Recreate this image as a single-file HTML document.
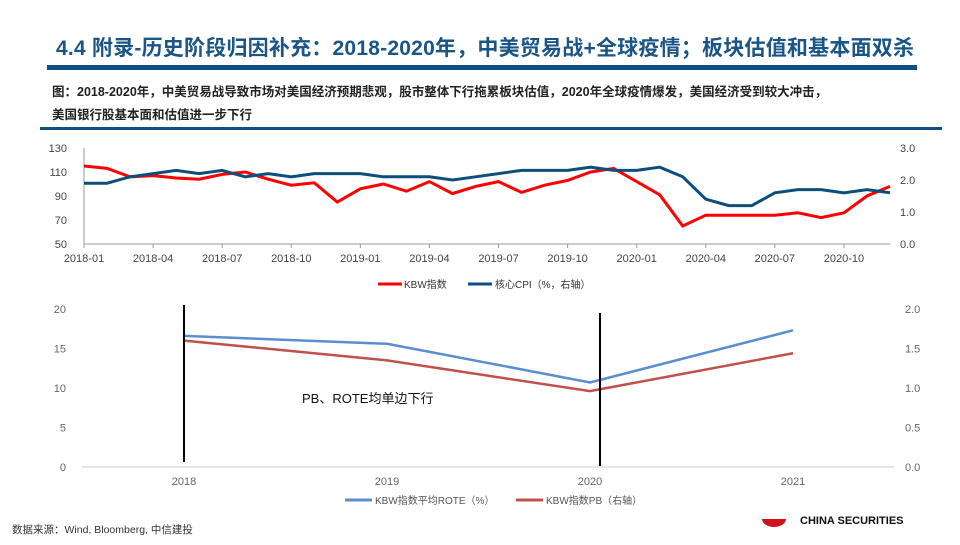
<!DOCTYPE html>
<html><head><meta charset="utf-8"><style>
body{margin:0;background:#fff;width:960px;height:540px;overflow:hidden;font-family:"Liberation Sans","Noto Sans CJK SC",sans-serif;}
svg text{font-family:"Liberation Sans","Noto Sans CJK SC",sans-serif;}
</style></head><body>
<svg width="960" height="540">
<text x="56" y="55" font-size="21" font-weight="bold" fill="#1a5586" textLength="858">4.4 附录-历史阶段归因补充：2018-2020年，中美贸易战+全球疫情；板块估值和基本面双杀</text>
<rect x="47" y="65" width="870" height="5" fill="#0e4e80"/>
<text x="52" y="96" font-size="12.5" font-weight="bold" fill="#222">图：2018-2020年，中美贸易战导致市场对美国经济预期悲观，股市整体下行拖累板块估值，2020年全球疫情爆发，美国经济受到较大冲击，</text>
<text x="52" y="119" font-size="12.5" font-weight="bold" fill="#222">美国银行股基本面和估值进一步下行</text>
<rect x="40" y="127" width="902" height="3" fill="#0e4e80"/>
<g id="topchart"></g>
<g id="botchart"></g>
<line x1="184" y1="305" x2="184" y2="462" stroke="#000" stroke-width="2"/>
<line x1="600" y1="313" x2="600" y2="466" stroke="#000" stroke-width="2"/>
<text x="302" y="403" font-size="13" fill="#111">PB、ROTE均单边下行</text>
<text x="12" y="533" font-size="10.5" fill="#333">数据来源：Wind, Bloomberg, 中信建投</text>
<g><path d="M762 519 a12 8 0 0 0 24 0 z" fill="#d0121b"/><text x="800" y="524" font-size="11" font-weight="bold" fill="#111">CHINA SECURITIES</text></g>
</svg>
<script>
const months=[];for(let y=2018;y<=2020;y++)for(let m=1;m<=12;m++)months.push(y+'-'+String(m).padStart(2,'0'));
const kbw=[115,113,106,107,105,104,108,110,104,99,101,85,96,100,94,102,92,98,102,93,99,103,110,113,102,91,65,74,74,74,74,76,72,76,90,98];
const cpi=[1.9,1.9,2.1,2.2,2.3,2.2,2.3,2.1,2.2,2.1,2.2,2.2,2.2,2.1,2.1,2.1,2.0,2.1,2.2,2.3,2.3,2.3,2.4,2.3,2.3,2.4,2.1,1.4,1.2,1.2,1.6,1.7,1.7,1.6,1.7,1.6];
const leftTicks=[50,70,90,110,130];
const rightTicks=[0,1,2,3];
const years=['2018','2019','2020','2021'];
const rote=[16.6,15.6,10.7,17.3];
const pb=[1.60,1.35,0.96,1.44];
const bLeftTicks=[0,5,10,15,20];
const bRightTicks=[0,0.5,1,1.5,2];
{
const NS='http://www.w3.org/2000/svg';
function mk(p,t,a){const e=document.createElementNS(NS,t);for(const k in a)e.setAttribute(k,a[k]);p.appendChild(e);return e;}
const topG=document.getElementById('topchart');
const tx=i=>84+i*(890-84)/35, ty=v=>244-(v-50)/80*96, tyr=v=>244-v/3*96;
mk(topG,'line',{x1:84,y1:244,x2:890,y2:244,stroke:'#999'});
mk(topG,'line',{x1:84,y1:148,x2:84,y2:244,stroke:'#999'});
leftTicks.forEach(v=>{const t=mk(topG,'text',{x:67,y:ty(v)+4,'font-size':11,fill:'#444','text-anchor':'end'});t.textContent=v;

});
rightTicks.forEach(v=>{const t=mk(topG,'text',{x:900,y:tyr(v)+4,'font-size':11,fill:'#444'});t.textContent=v.toFixed(1);

});
months.forEach((m,i)=>{if(i%3)return;mk(topG,'line',{x1:tx(i),y1:244,x2:tx(i),y2:248,stroke:'#999'});
const t=mk(topG,'text',{x:tx(i),y:262,'font-size':11,fill:'#444','text-anchor':'middle'});t.textContent=m;

});
let p=mk(topG,'polyline',{points:kbw.map((v,i)=>tx(i)+','+ty(v)).join(' '),fill:'none',stroke:'#f00','stroke-width':3});


p=mk(topG,'polyline',{points:cpi.map((v,i)=>tx(i)+','+tyr(v)).join(' '),fill:'none',stroke:'#0d4f7c','stroke-width':3});


let lg=mk(topG,'g',{});


mk(lg,'line',{x1:378,y1:284,x2:402,y2:284,stroke:'#f00','stroke-width':3});
mk(lg,'text',{x:404,y:288,'font-size':10,fill:'#333'}).textContent='KBW指数';
mk(lg,'line',{x1:468,y1:284,x2:492,y2:284,stroke:'#0d4f7c','stroke-width':3});
mk(lg,'text',{x:495,y:288,'font-size':10,fill:'#333'}).textContent='核心CPI（%，右轴）';
const botG=document.getElementById('botchart');
const bx=i=>184+i*203, by=v=>467-v/20*158, byr=v=>467-v/2*158;
mk(botG,'line',{x1:82,y1:467,x2:894,y2:467,stroke:'#ccc'});
bLeftTicks.forEach(v=>{const t=mk(botG,'text',{x:66,y:by(v)+4,'font-size':11,fill:'#666','text-anchor':'end'});t.textContent=v;

});
bRightTicks.forEach(v=>{const t=mk(botG,'text',{x:905,y:byr(v)+4,'font-size':11,fill:'#666'});t.textContent=v.toFixed(1);

});
years.forEach((y,i)=>{const t=mk(botG,'text',{x:bx(i),y:485,'font-size':11,fill:'#666','text-anchor':'middle'});t.textContent=y;

});
p=mk(botG,'polyline',{points:rote.map((v,i)=>bx(i)+','+by(v)).join(' '),fill:'none',stroke:'#5b8ed0','stroke-width':2.5});


p=mk(botG,'polyline',{points:pb.map((v,i)=>bx(i)+','+byr(v)).join(' '),fill:'none',stroke:'#c0504d','stroke-width':2.5});


lg=mk(botG,'g',{});


mk(lg,'line',{x1:345,y1:500,x2:372,y2:500,stroke:'#5b8ed0','stroke-width':3});
mk(lg,'text',{x:375,y:504,'font-size':10,fill:'#555'}).textContent='KBW指数平均ROTE（%）';
mk(lg,'line',{x1:516,y1:500,x2:543,y2:500,stroke:'#c0504d','stroke-width':3});
mk(lg,'text',{x:546,y:504,'font-size':10,fill:'#555'}).textContent='KBW指数PB（右轴）';
}
</script>
</body></html>
